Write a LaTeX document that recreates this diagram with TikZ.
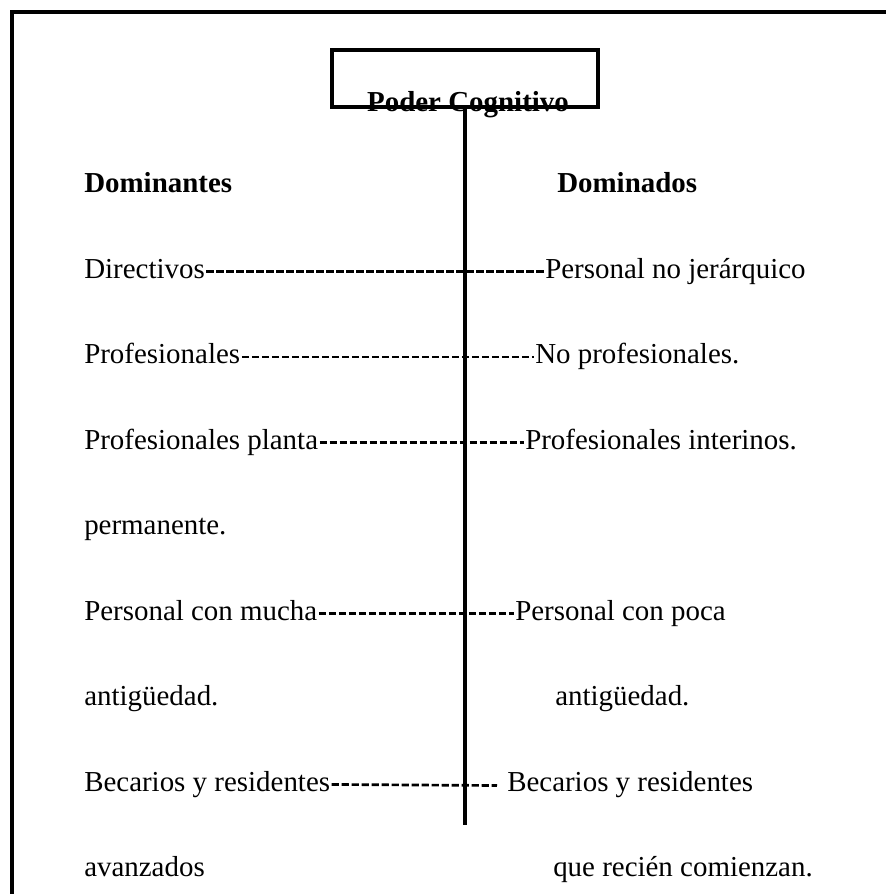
\documentclass[tikz,border=0pt]{standalone}
\usepackage{fontspec}
\setmainfont{Liberation Serif}
\begin{document}
\begin{tikzpicture}[x=0.75pt,y=-0.75pt,
  txt/.style={inner sep=0pt,anchor=base west,font=\fontsize{21.7}{25}\selectfont},
  hdr/.style={txt,font=\fontsize{21.7}{25}\selectfont\bfseries},
  frame/.style={line width=2.8pt},
  rule/.style={line width=2.6pt},
  dashline/.style={line width=2pt,dash pattern=on 5.4pt off 2.1pt},
]
\useasboundingbox (0,0) rectangle (886,894);
% outer frame (top and left only)
\draw[frame] (12,894) -- (12,12) -- (886,12);
% title box
\node[draw,line width=2.5pt,minimum width=266*0.75pt,minimum height=57*0.75pt,inner sep=0pt] (box) at (465,78.5) {};
\node[hdr,anchor=base] (title) at (468,111) {Poder Cognitivo};
\coordinate (axisend) at (465,825);
\draw[rule] (box.south) -- (axisend);
% headers
\node[hdr] (hl) at (84,192.5) {Dominantes};
\node[hdr] (hr) at (557,192.5) {Dominados};
% rows
\node[txt] (l1) at (84,278) {Directivos};
\node[txt] (r1) at (545,278) {Personal no jerárquico};
\node[txt] (l2) at (84,363.5) {Profesionales};
\node[txt] (r2) at (535,363.5) {No profesionales.};
\node[txt] (l3) at (84,449) {Profesionales planta};
\node[txt] (r3) at (525,449) {Profesionales interinos.};
\node[txt] (l4) at (84,534.5) {permanente.};
\node[txt] (l5) at (84,620) {Personal con mucha};
\node[txt] (r5) at (515,620) {Personal con poca};
\node[txt] (l6) at (84,705.5) {antigüedad.};
\node[txt] (r6) at (555,705.5) {antigüedad.};
\node[txt] (l7) at (84,791) {Becarios y residentes};
\node[txt] (r7) at (507,791) {Becarios y residentes};
\node[txt] (l8) at (84,876.5) {avanzados};
\node[txt] (r8) at (553,876.5) {que recién comienzan.};
\coordinate (e7) at (497,785.5);
% dashed connectors
\draw[dashline] ([yshift=4.9pt,xshift=1pt]l1.base east) -- ([yshift=4.9pt,xshift=-1pt]r1.base west);
\draw[dashline] ([yshift=4.9pt,xshift=1pt]l2.base east) -- ([yshift=4.9pt,xshift=-1pt]r2.base west);
\draw[dashline] ([yshift=4.9pt,xshift=1pt]l3.base east) -- ([yshift=4.9pt,xshift=-1pt]r3.base west);
\draw[dashline] ([yshift=4.9pt,xshift=1pt]l5.base east) -- ([yshift=4.9pt,xshift=-1pt]r5.base west);
\draw[dashline] ([yshift=4.9pt,xshift=1pt]l7.base east) -- (e7);
\end{tikzpicture}
\end{document}
